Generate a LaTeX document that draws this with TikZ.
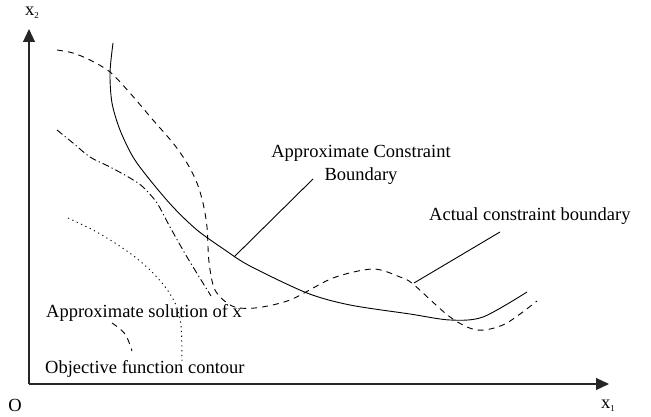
\documentclass[tikz,border=0pt]{standalone}
\usepackage{fontspec}
\setmainfont{Liberation Serif}
\usetikzlibrary{arrows.meta}
\begin{document}
\begin{tikzpicture}[x=1pt,y=-1pt,
  lbl/.style={inner sep=0pt,font=\fontsize{18.5}{22.5}\selectfont},
  axis/.style={line width=1.2pt,draw=black!85,-{Triangle[length=13pt,width=12pt]}},
  curve/.style={line width=0.9pt},
  dsh/.style={curve,dash pattern=on 6pt off 5pt},
  dshdot/.style={curve,dash pattern=on 7pt off 3pt on 1.2pt off 3pt},
  dts/.style={curve,dash pattern=on 1.2pt off 3.6pt},
  leader/.style={line width=0.9pt}]
\useasboundingbox (0,0) rectangle (651,417);
% axes
\coordinate (O) at (29,384);
\coordinate (ytip) at (29,29);
\coordinate (xtip) at (609,384);
\draw[axis] (O) -- (ytip);
\draw[axis] (O) -- (xtip);
\node[lbl] (olbl) at (15,405) {O};
\node[lbl] (x2) at (32,13) {x\raisebox{-0.4ex}{\fontsize{9}{10}\selectfont 2}};
\node[lbl] (x1) at (608,406) {x\raisebox{-0.4ex}{\fontsize{9}{10}\selectfont 1}};
% approximate constraint boundary (solid)
\draw[curve] plot[smooth,tension=0.5] coordinates {(113,43) (110,73) (112,103) (120,130) (133,157) (150,180) (173,207) (197,230) (225,250) (250,266) (307,293) (350,305) (410,314) (450,320) (483,317) (527,292)};
% actual constraint boundary (dashed)
\draw[dsh] plot[smooth,tension=0.5] coordinates {(57,50) (73,53) (90,60) (110,72) (130,93) (153,120) (173,143) (187,163) (197,183) (203,203) (207,227) (209,262) (215,290) (232,306) (255,308) (290,300) (333,278) (373,269) (400,277) (413,284) (450,317) (477,330) (505,324) (537,301)};
% dash-dot contour
\draw[dshdot] plot[smooth,tension=0.5] coordinates {(57,130) (73,143) (90,157) (110,167) (130,178) (143,187) (157,203) (170,227) (187,257) (211,296)};
% dotted contour
\draw[dts] plot[smooth,tension=0.5] coordinates {(68,218) (93,230) (115,243) (135,257) (152,272) (166,288) (176,305) (181,325) (182,362)};
% approximate solution small dashed arc
\draw[dsh] plot[smooth,tension=0.6] coordinates {(112,323) (125,334) (132,351)};
% labels
\node[lbl,align=center] (acb) at (361,165) {Approximate Constraint\\Boundary};
\node[lbl,anchor=west] (actual) at (429,216) {Actual constraint boundary};
\node[lbl,anchor=west] (sol) at (46,313) {Approximate solution of x};
\node[lbl,anchor=west] (obj) at (45,369) {Objective function contour};
% leaders
\coordinate (acbend) at (234,257);
\coordinate (actend) at (414,283);
\draw[leader] (313,179) -- (acbend);
\draw[leader] (500,232) -- (actend);
\end{tikzpicture}
\end{document}
